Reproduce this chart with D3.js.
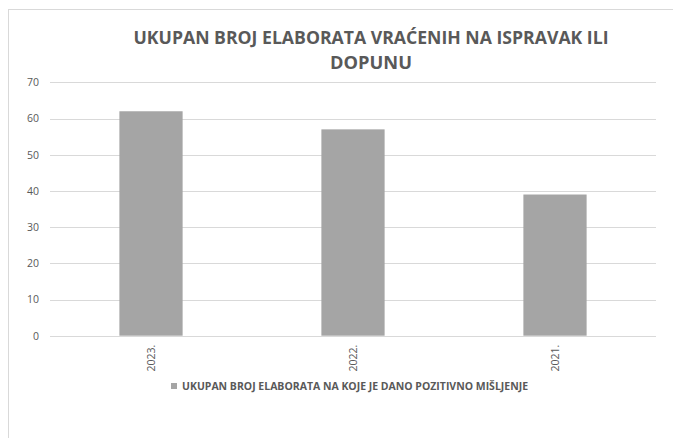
<!DOCTYPE html>
<html lang="hr">
  <head>
    <meta charset="UTF-8" />
    <title>Ukupan broj elaborata</title>
    <script src="https://d3js.org/d3.v7.min.js"></script>
    <style>
      body {
        margin: 0;
        background: #fff;
      }
      text {
        font-family: "Open Sans", "Liberation Sans", sans-serif;
      }
      .axis text {
        font-size: 10.5px;
        fill: #595959;
      }
    </style>
  </head>
  <body>
    <div id="chart"></div>
    <script>
      // Podaci
      const years = ["2023.", "2022.", "2021."];
      const counts = [62, 57, 39];
      const yTicks = [0, 10, 20, 30, 40, 50, 60, 70];
      const titleLines = [
        "UKUPAN BROJ ELABORATA VRAĆENIH NA ISPRAVAK ILI",
        "DOPUNU",
      ];
      const legendLabel =
        "UKUPAN BROJ ELABORATA NA KOJE JE DANO POZITIVNO MIŠLJENJE";

      const W = 673,
        H = 438;
      const plot = { left: 50, right: 656, top: 82.3, bottom: 335.7 };

      const svg = d3
        .select("#chart")
        .append("svg")
        .attr("width", W)
        .attr("height", H);

      // okvir grafikona
      svg
        .append("rect")
        .attr("x", 8.5)
        .attr("y", 9.5)
        .attr("width", W + 10)
        .attr("height", H + 10)
        .attr("fill", "#fff")
        .attr("stroke", "#d9d9d9");

      const x = d3
        .scaleBand()
        .domain(years)
        .range([plot.left, plot.right])
        .paddingInner(0.687)
        .paddingOuter(0.3435);

      const y = d3
        .scaleLinear()
        .domain([0, 70])
        .range([plot.bottom, plot.top]);

      // mreža
      svg
        .append("g")
        .selectAll("line")
        .data(yTicks)
        .join("line")
        .attr("x1", plot.left)
        .attr("x2", plot.right)
        .attr("y1", (d) => Math.round(y(d)) + 0.5)
        .attr("y2", (d) => Math.round(y(d)) + 0.5)
        .attr("stroke", "#d9d9d9")
        .attr("stroke-width", 1);

      // stupci
      svg
        .append("g")
        .selectAll("rect")
        .data(counts)
        .join("rect")
        .attr("x", (d, i) => x(years[i]))
        .attr("y", (d) => y(d))
        .attr("width", x.bandwidth())
        .attr("height", (d) => y(0) - y(d))
        .attr("fill", "#a5a5a5");

      // os y
      const yAxis = svg
        .append("g")
        .attr("class", "axis")
        .attr("transform", `translate(${plot.left},0)`)
        .call(d3.axisLeft(y).tickValues(yTicks).tickSize(0).tickPadding(11));
      yAxis.select(".domain").remove();

      // os x
      const xAxis = svg
        .append("g")
        .attr("class", "axis")
        .attr("transform", `translate(0,${plot.bottom})`)
        .call(d3.axisBottom(x).tickSize(0));
      xAxis.select(".domain").remove();
      xAxis
        .selectAll("text")
        .attr("transform", "rotate(-90)")
        .attr("text-anchor", "end")
        .attr("x", -9)
        .attr("y", 0)
        .attr("dy", "0.35em");

      // naslov
      svg
        .append("g")
        .selectAll("text")
        .data(titleLines)
        .join("text")
        .attr("x", 371)
        .attr("y", (d, i) => 44 + i * 25)
        .attr("text-anchor", "middle")
        .attr("font-size", "17px")
        .attr("font-weight", "bold")
        .attr("fill", "#595959")
        .attr("textLength", (d, i) => (i === 0 ? 475 : 82))
        .attr("lengthAdjust", "spacingAndGlyphs")
        .text((d) => d);

      // legenda
      const legend = svg.append("g");
      legend
        .append("rect")
        .attr("x", 171)
        .attr("y", 383)
        .attr("width", 6)
        .attr("height", 6)
        .attr("fill", "#a5a5a5");
      legend
        .append("text")
        .attr("x", 182)
        .attr("y", 390)
        .attr("font-size", "10.5px")
        .attr("font-weight", "bold")
        .attr("fill", "#595959")
        .attr("textLength", 346)
        .attr("lengthAdjust", "spacingAndGlyphs")
        .text(legendLabel);
    </script>
  </body>
</html>
